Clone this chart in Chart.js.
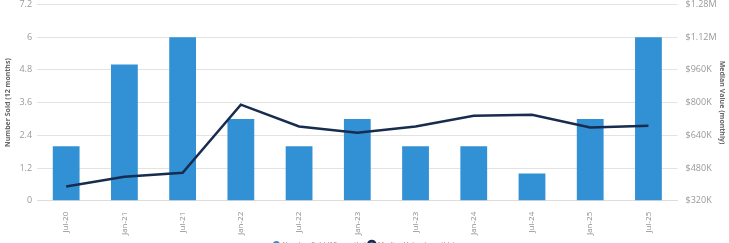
<html>

<head>
    <script src="https://cdn.jsdelivr.net/npm/chart.js@4"></script>
    <style>
        body{
            margin: 0;
            overflow: hidden;
            background: #fff;
        }
        .wrap{
            position: relative;
            width: 729px;
            height: 264px;
            margin-top: -6px;
        }
    </style>
</head>

<body>
    <div class="wrap"><canvas id="dataChart"></canvas></div>
</body>
<script>
    var labels = ["Jul-20", "Jan-21", "Jul-21", "Jan-22", "Jul-22", "Jan-23", "Jul-23", "Jan-24", "Jul-24", "Jan-25", "Jul-25"];
    var numberSold = [2, 5, 6, 3, 2, 3, 2, 2, 1, 3, 6];
    var medianValue = [390000, 437000, 457000, 790000, 683000, 653000, 683000, 736000, 741000, 678000, 687000];

    var tickFont = { family: "Open Sans", size: 9 };
    var titleFont = { family: "Open Sans", size: 7, weight: "bold" };

    var ctx = document.getElementById("dataChart");
    var myChart = new Chart(ctx, {
        type: 'bar',
        data: {
            labels: labels,
            datasets: [{
                label: "Number Sold (12 months)",
                data: numberSold,
                yAxisID: 'y',
                backgroundColor: "#3290d4",
                barPercentage: 0.46,
                categoryPercentage: 1,
                order: 1
            }, {
                type: 'line',
                label: "Median Value (monthly)",
                data: medianValue,
                yAxisID: 'y1',
                borderColor: "#172c4e",
                backgroundColor: "#3290d4",
                borderWidth: 2.5,
                pointRadius: 0,
                tension: 0,
                order: 0
            }]
        },
        options: {
            responsive: true,
            maintainAspectRatio: false,
            animation: false,
            layout: { padding: { top: 4, left: 2, right: 2, bottom: 0 } },
            plugins: {
                legend: {
                    position: 'bottom',
                    labels: {
                        font: { family: "Open Sans", size: 7 },
                        color: "#888",
                        usePointStyle: true,
                        pointStyle: 'circle',
                        boxWidth: 5,
                        boxHeight: 5,
                        padding: 3,
                        sort: function (a, b) { return a.datasetIndex - b.datasetIndex; }
                    }
                },
                tooltip: { enabled: false }
            },
            scales: {
                x: {
                    grid: { display: false },
                    border: { color: "#ddd" },
                    ticks: {
                        font: { family: "Open Sans", size: 8 },
                        color: "#8c8c8c",
                        minRotation: 90,
                        maxRotation: 90,
                        padding: 3
                    }
                },
                y: {
                    position: 'left',
                    min: 0,
                    max: 7.2,
                    ticks: {
                        stepSize: 1.2,
                        font: tickFont,
                        color: "#999",
                        padding: 5,
                        callback: function (v) { return Math.round(v * 10) / 10; }
                    },
                    grid: { color: "#e3e3e3", drawTicks: false },
                    border: { display: false },
                    title: { display: true, text: "Number Sold (12 months)", font: titleFont, color: "#666", padding: 2 }
                },
                y1: {
                    position: 'right',
                    min: 320000,
                    max: 1280000,
                    ticks: {
                        stepSize: 160000,
                        font: tickFont,
                        color: "#999",
                        padding: 0,
                        callback: function (v) {
                            if (v >= 1000000) return "$" + (v / 1000000).toFixed(2) + "M";
                            return "$" + Math.round(v / 1000) + "K";
                        }
                    },
                    grid: { display: false },
                    border: { display: false },
                    title: { display: true, text: "Median Value (monthly)", font: titleFont, color: "#666", padding: 1 }
                }
            }
        }
    });
</script>

</html>
